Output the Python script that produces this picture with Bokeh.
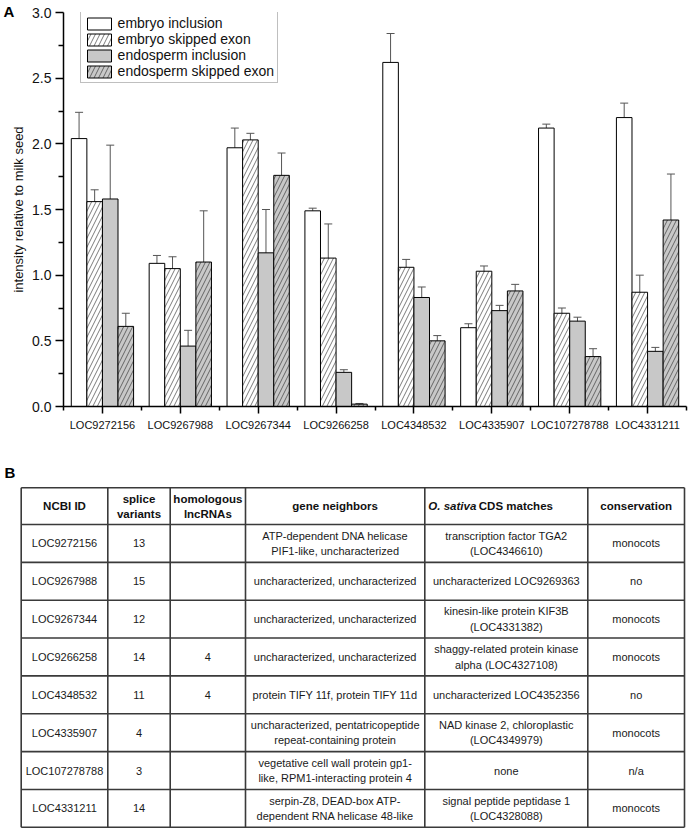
import numpy as np
from bokeh.plotting import figure
from bokeh.models import (Range1d, FixedTicker, Legend, LegendItem, Whisker, TeeHead,
                          ColumnDataSource, Label, PrintfTickFormatter, Title)
from bokeh.layouts import column
from bokeh.embed import file_html
from bokeh.resources import INLINE
from bokeh.core.properties import value

# ---------------- data (panel A) ----------------
genes = ["LOC9272156", "LOC9267988", "LOC9267344", "LOC9266258",
         "LOC4348532", "LOC4335907", "LOC107278788", "LOC4331211"]
series_names = ["embryo inclusion", "embryo skipped exon",
                "endosperm inclusion", "endosperm skipped exon"]

embryo_inclusion = [2.04, 1.09, 1.97, 1.49, 2.62, 0.60, 2.12, 2.20]
embryo_inclusion_err = [0.20, 0.06, 0.15, 0.02, 0.22, 0.03, 0.03, 0.11]
embryo_skipped = [1.56, 1.05, 2.03, 1.13, 1.06, 1.03, 0.71, 0.87]
embryo_skipped_err = [0.09, 0.09, 0.05, 0.26, 0.06, 0.04, 0.04, 0.13]
endosperm_inclusion = [1.58, 0.46, 1.17, 0.26, 0.83, 0.73, 0.65, 0.42]
endosperm_inclusion_err = [0.41, 0.12, 0.33, 0.02, 0.08, 0.04, 0.03, 0.03]
endosperm_skipped = [0.61, 1.10, 1.76, 0.018, 0.50, 0.88, 0.38, 1.42]
endosperm_skipped_err = [0.10, 0.39, 0.17, 0.005, 0.04, 0.05, 0.06, 0.35]

y_ticks = [0.0, 0.5, 1.0, 1.5, 2.0, 2.5, 3.0]

# ---------------- data (panel B) ----------------
tbl_headers = ["NCBI ID", "splice\nvariants", "homologous\nlncRNAs",
               "gene neighbors", "O. sativa CDS matches", "conservation"]
tbl_ids = genes
tbl_splice = ["13", "15", "12", "14", "11", "4", "3", "14"]
tbl_homologous = ["", "", "", "4", "4", "", "", ""]
tbl_neighbors = ["ATP-dependent DNA helicase\nPIF1-like, uncharacterized",
                 "uncharacterized, uncharacterized",
                 "uncharacterized, uncharacterized",
                 "uncharacterized, uncharacterized",
                 "protein TIFY 11f, protein TIFY 11d",
                 "uncharacterized, pentatricopeptide\nrepeat-containing protein",
                 "vegetative cell wall protein gp1-\nlike, RPM1-interacting protein 4",
                 "serpin-Z8, DEAD-box ATP-\ndependent RNA helicase 48-like"]
tbl_cds = ["transcription factor TGA2\n(LOC4346610)",
           "uncharacterized LOC9269363",
           "kinesin-like protein KIF3B\n(LOC4331382)",
           "shaggy-related protein kinase\nalpha (LOC4327108)",
           "uncharacterized LOC4352356",
           "NAD kinase 2, chloroplastic\n(LOC4349979)",
           "none",
           "signal peptide peptidase 1\n(LOC4328088)"]
tbl_conservation = ["monocots", "no", "monocots", "monocots", "no",
                    "monocots", "n/a", "monocots"]

FONT = "Liberation Sans"
GRAY = "#c8c8c8"

# ---------------- panel A ----------------
W1, H1 = 688, 440
BT, BB, BL = 12, 34, 63
p = figure(width=W1, height=H1, x_range=Range1d(0, len(genes)), y_range=Range1d(0, 3),
           output_backend="svg", toolbar_location=None, frame_align=False,
           min_border_left=BL, min_border_right=2, min_border_top=BT, min_border_bottom=BB)
p.outline_line_color = None
p.grid.visible = False
p.background_fill_color = "white"
p.border_fill_color = "white"

centers = np.arange(len(genes)) + 0.5
offsets = [-0.3, -0.1, 0.1, 0.3]
series_vals = [embryo_inclusion, embryo_skipped, endosperm_inclusion, endosperm_skipped]
series_errs = [embryo_inclusion_err, embryo_skipped_err, endosperm_inclusion_err, endosperm_skipped_err]
fills = ["white", "white", GRAY, GRAY]
hatches = [None, "/", None, "/"]

renderers = []
for vals, errs, off, fc, hp in zip(series_vals, series_errs, offsets, fills, hatches):
    xs = centers + off
    vals = np.array(vals)
    errs = np.array(errs)
    src = ColumnDataSource(dict(x=xs, top=vals, upper=vals + errs, lower=vals - errs))
    kw = dict(fill_color=fc, line_color="black", line_width=1)
    if hp:
        kw.update(hatch_pattern=hp, hatch_color="#222222", hatch_scale=9, hatch_weight=0.6)
    r = p.vbar(x="x", top="top", bottom=0, width=0.2, source=src, **kw)
    renderers.append(r)
    w = Whisker(base="x", upper="upper", lower="lower", source=src,
                line_color="#555555", line_width=1,
                upper_head=TeeHead(size=8, line_color="#555555", line_width=1),
                lower_head=TeeHead(size=8, line_color="#555555", line_width=1))
    p.add_layout(w)

frame_h = H1 - BT - BB
legend = Legend(items=[LegendItem(label=n, renderers=[r]) for n, r in zip(series_names, renderers)],
                location=(16.6, frame_h - 1.4 - 70), orientation="vertical",
                label_text_font=FONT, label_text_font_size="14px", label_text_color="#111111",
                glyph_width=30, glyph_height=15, label_height=15, label_standoff=4,
                spacing=0, padding=3, margin=0,
                border_line_color="#808080", border_line_width=1,
                background_fill_color="white", background_fill_alpha=1)
p.add_layout(legend)

# x axis
p.xaxis.ticker = FixedTicker(ticks=list(centers), minor_ticks=list(range(len(genes) + 1)))
p.xaxis.major_label_overrides = {float(c): g for c, g in zip(centers, genes)}
p.xaxis.major_label_text_font = FONT
p.xaxis.major_label_text_font_size = "11px"
p.xaxis.major_label_text_color = "#111111"
p.xaxis.major_label_standoff = 5
p.xaxis.major_tick_in = 0
p.xaxis.major_tick_out = 7
p.xaxis.minor_tick_in = 0
p.xaxis.minor_tick_out = 4
# y axis
p.yaxis.ticker = FixedTicker(ticks=y_ticks,
                             minor_ticks=[(a + b) / 2 for a, b in zip(y_ticks[:-1], y_ticks[1:])])
p.yaxis.formatter = PrintfTickFormatter(format="%.1f")
p.yaxis.major_label_text_font = FONT
p.yaxis.major_label_text_font_size = "14px"
p.yaxis.major_label_text_color = "#111111"
p.yaxis.major_label_standoff = 4
p.yaxis.major_tick_in = 0
p.yaxis.major_tick_out = 8
p.yaxis.minor_tick_in = 0
p.yaxis.minor_tick_out = 5
p.yaxis.axis_label = "intensity relative to milk seed"
p.yaxis.axis_label_text_font = FONT
p.yaxis.axis_label_text_font_size = "13px"
p.yaxis.axis_label_text_font_style = "normal"
p.yaxis.axis_label_text_color = "#111111"
p.yaxis.axis_label_standoff = 3
for ax in (p.xaxis, p.yaxis):
    ax.axis_line_width = 1.5
    ax.axis_line_color = "black"
    ax.major_tick_line_width = 1.5
    ax.minor_tick_line_width = 1.5
    ax.major_tick_line_color = "black"
    ax.minor_tick_line_color = "black"

# panel letter as a title placed in the top border, shifted to the page's left edge
p.add_layout(Title(text="A", align="left", offset=3 - BL, standoff=-14, vertical_align="bottom",
                   text_font=FONT, text_font_size="15px", text_font_style="bold",
                   text_color="black"), "above")

# ---------------- panel B (table) ----------------
W2, H2 = 688, 831 - H1
t = figure(width=W2, height=H2, x_range=Range1d(0, W2), y_range=Range1d(H1 + H2, H1),
           output_backend="svg", toolbar_location=None, min_border=0, frame_align=False,
           x_axis_location=None, y_axis_location=None)
t.outline_line_color = None
t.grid.visible = False
t.background_fill_color = "white"
t.border_fill_color = "white"

col_edges = [20.7, 107.3, 169.7, 245.0, 424.3, 587.3, 684.0]
header_top = 487.3
header_h = 36.7
row_h = 37.85
n_rows = len(tbl_ids)
row_edges = [header_top, header_top + header_h] + \
            [header_top + header_h + row_h * (i + 1) for i in range(n_rows)]
LINE = "#3a3a3a"
t.segment(x0=[col_edges[0]] * len(row_edges), x1=[col_edges[-1]] * len(row_edges),
          y0=row_edges, y1=row_edges, line_color=LINE, line_width=1.6)
t.segment(x0=col_edges, x1=col_edges, y0=[row_edges[0]] * len(col_edges),
          y1=[row_edges[-1]] * len(col_edges), line_color=LINE, line_width=1.6)

col_centers = [(a + b) / 2 for a, b in zip(col_edges[:-1], col_edges[1:])]
row_centers = [(a + b) / 2 for a, b in zip(row_edges[1:-1], row_edges[2:])]
header_cy = header_top + header_h / 2

hx, hy, ht = [], [], []
for j, h in enumerate(tbl_headers):
    if j == 4:
        continue
    hx.append(col_centers[j]); hy.append(header_cy); ht.append(h)
t.text(x=hx, y=hy, text=ht, text_font=value(FONT), text_font_size="11.5px",
       text_font_style="bold", text_align="center", text_baseline="middle",
       text_color="#111111", text_line_height=1.25)
parts = tbl_headers[4].split(" CDS ")
t.text(x=[col_centers[4] - 30], y=[header_cy], text=[parts[0]], text_font=value(FONT),
       text_font_size="11.5px", text_font_style="bold italic", text_align="right",
       text_baseline="middle", text_color="#111111")
t.text(x=[col_centers[4] - 27.5], y=[header_cy], text=["CDS " + parts[1]], text_font=value(FONT),
       text_font_size="11.5px", text_font_style="bold", text_align="left",
       text_baseline="middle", text_color="#111111")

bx, by, bt = [], [], []
for j, col in enumerate([tbl_ids, tbl_splice, tbl_homologous, tbl_neighbors, tbl_cds, tbl_conservation]):
    for i, s in enumerate(col):
        if s:
            bx.append(col_centers[j]); by.append(row_centers[i]); bt.append(s)
t.text(x=bx, y=by, text=bt, text_font=value(FONT), text_font_size="11px",
       text_align="center", text_baseline="middle", text_color="#1a1a1a",
       text_line_height=1.3)

t.add_layout(Label(x=4, y=463, text="B", text_font=FONT, text_font_size="15px",
                   text_font_style="bold", text_baseline="top", text_align="left",
                   text_color="black"))

layout = column(p, t, spacing=0)
open("out.html", "w").write(file_html(layout, INLINE))
